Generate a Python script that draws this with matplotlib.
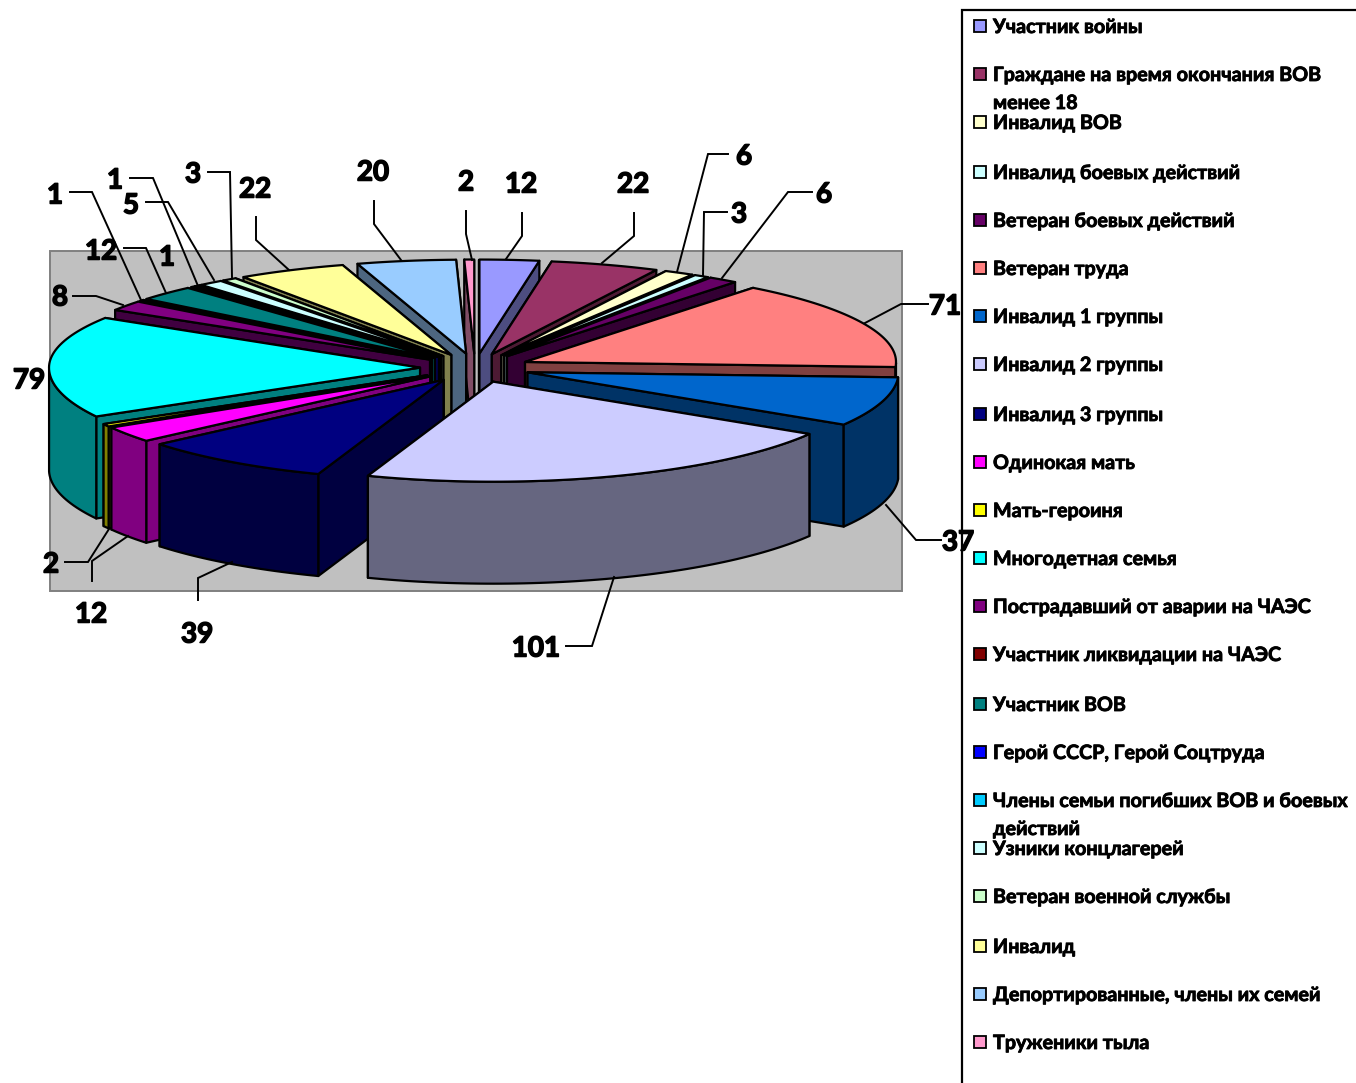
import numpy as np
import matplotlib
matplotlib.use("Agg")
import matplotlib.pyplot as plt
import matplotlib.patheffects as pe
from matplotlib.patches import Polygon, Rectangle

# ---- data ----
categories = ["Участник войны", "Граждане на время окончания ВОВ\nменее 18", "Инвалид ВОВ",
              "Инвалид боевых действий", "Ветеран боевых действий", "Ветеран труда",
              "Инвалид 1 группы", "Инвалид 2 группы", "Инвалид 3 группы", "Одинокая мать",
              "Мать-героиня", "Многодетная семья", "Пострадавший от аварии на ЧАЭС",
              "Участник ликвидации на ЧАЭС", "Участник ВОВ", "Герой СССР, Герой Соцтруда",
              "Члены семьи погибших ВОВ и боевых\nдействий", "Узники концлагерей",
              "Ветеран военной службы", "Инвалид", "Депортированные, члены их семей",
              "Труженики тыла"]
values = [12, 22, 6, 3, 6, 71, 37, 101, 39, 12, 2, 79, 8, 1, 12, 1, 1, 5, 3, 22, 20, 2]
colors = ["#9999FF", "#993366", "#FFFFCC", "#CCFFFF", "#660066", "#FF8080", "#0066CC",
          "#CCCCFF", "#000080", "#FF00FF", "#FFFF00", "#00FFFF", "#800080", "#800000",
          "#008080", "#0000FF", "#00CCFF", "#CCFFFF", "#CCFFCC", "#FFFF99", "#99CCFF",
          "#FF99CC"]

# ---- layout (pixel coordinates of the reference canvas) ----
CX, CY = 475, 368        # pie centre on the top plane
RX, RY_BACK, RY_FRONT = 371, 94, 100
EX, EY = 55, 14.5        # explosion distance
DEPTH = 102
LW = 1.6
FONT = "Lato"

label_pos = [(521, 182), (633, 182), (744, 154), (739, 212), (824, 192), (945, 304),
             (958, 540), (536, 646), (197, 632), (91, 612), (51, 562), (29, 378),
             (60, 295), (55, 193), (101, 249), (167, 255), (115, 178), (131, 203),
             (193, 172), (255, 187), (373, 170), (466, 180)]
leaders = [[(522, 213), (522, 236), (506, 259)], [(634, 213), (634, 236), (602, 263)],
           [(728, 154), (708, 154), (677, 272)], [(727, 212), (704, 212), (703, 275)],
           [(812, 192), (788, 192), (722, 278)], [(928, 304), (901, 304), (865, 323)],
           [(941, 540), (916, 540), (886, 505)], [(566, 646), (592, 646), (614, 577)],
           [(198, 600), (198, 578), (232, 562)], [(92, 581), (92, 561), (128, 536)],
           [(65, 562), (88, 562), (109, 529)], None,
           [(73, 296), (96, 296), (123, 305)], [(70, 192), (92, 192), (141, 300)],
           [(124, 248), (146, 248), (166, 293)], None,
           [(130, 178), (153, 178), (198, 286)], [(146, 202), (168, 202), (214, 280)],
           [(208, 172), (230, 172), (232, 277)], [(256, 217), (256, 240), (289, 270)],
           [(374, 201), (374, 224), (401, 260)], [(466, 211), (466, 234), (472, 260)]]
legend_y = [26, 74, 122, 172, 220, 268, 316, 364, 414, 462, 510, 558, 606, 654, 704, 752,
            800, 848, 896, 946, 994, 1042]

fig = plt.figure(figsize=(13.56, 10.83), dpi=100, facecolor="white")
ax = fig.add_axes([0, 0, 1, 1])
ax.set_xlim(0, 1356)
ax.set_ylim(1083, 0)
ax.axis("off")

# plot area
ax.add_patch(Rectangle((50, 251), 852, 340, fc="#C0C0C0", ec="#808080", lw=1.4, zorder=1))


def rim(a, ox, oy):
    a = np.asarray(a)
    ry = np.where(np.cos(a) > 0, RY_BACK, RY_FRONT)
    return np.column_stack([ox + RX * np.sin(a), oy - ry * np.cos(a)])


def dark(c):
    return tuple(v * 0.5 for v in matplotlib.colors.to_rgb(c))


def face(pts, col, z):
    ax.add_patch(Polygon(pts, closed=True, fc=col, ec="black", lw=LW, joinstyle="round", zorder=z))


edges = np.cumsum([0] + values) / sum(values) * 2 * np.pi
mids = (edges[:-1] + edges[1:]) / 2
order = np.argsort(-np.cos(mids))
for rank, i in enumerate(order):
    a0, a1, m = edges[i], edges[i + 1], mids[i]
    ox, oy = CX + EX * np.sin(m), CY - EY * np.cos(m)
    n = max(3, int((a1 - a0) / 0.02))
    th = np.linspace(a0, a1, n)
    arc = rim(th, ox, oy)
    apex = np.array([ox, oy])
    top = np.vstack([apex, arc])
    down = np.array([0, DEPTH])
    z = 2 + rank * 0.01
    side = dark(colors[i])
    # radial walls, back-facing ones first so front faces cover them
    inner = rim(np.array([m]), ox, oy)[0] - apex
    walls = []
    for p in (arc[0], arc[-1]):
        d = p - apex
        nrm = np.array([-d[1], d[0]])
        if nrm @ inner > 0:
            nrm = -nrm
        walls.append((nrm[1] > 0, p))
    for front, p in sorted(walls, key=lambda w: w[0]):
        face([apex, p, p + down, apex + down], side, z)
    # outer curved wall, only the part looking at the viewer
    vis = np.cos(th) < 0
    if vis.sum() >= 2:
        seg = arc[vis]
        face(np.vstack([seg, (seg + down)[::-1]]), side, z)
    face(top, colors[i], z + 0.001)

# data labels and leader lines
for v, (lx, ly), path in zip(values, label_pos, leaders):
    ax.text(lx, ly + 2.5, str(v), fontsize=20, fontweight="bold", family=FONT,
            ha="center", va="center", color="black", zorder=5,
            path_effects=[pe.withStroke(linewidth=1.1, foreground="black")])
    if path:
        xs, ys = zip(*path)
        ax.plot(xs, ys, color="black", lw=1.4, zorder=4, solid_joinstyle="miter")

# legend
ax.plot([962, 962, 1356], [1083, 10, 10], color="black", lw=1.6, zorder=6,
        solid_joinstyle="miter")
for name, col, y in zip(categories, colors, legend_y):
    ax.add_patch(Rectangle((973.5, y - 6.5), 12.5, 12.5, fc=col, ec="black", lw=1.3, zorder=6))
    parts = name.split("\n")
    for k, part in enumerate(parts):
        ax.text(993, y + 1 + k * 28, part, fontsize=14.2, fontweight="bold", family=FONT,
                ha="left", va="center", color="black", zorder=6,
                path_effects=[pe.withStroke(linewidth=0.6, foreground="black")])

fig.savefig("out.png", dpi=100, facecolor="white")
